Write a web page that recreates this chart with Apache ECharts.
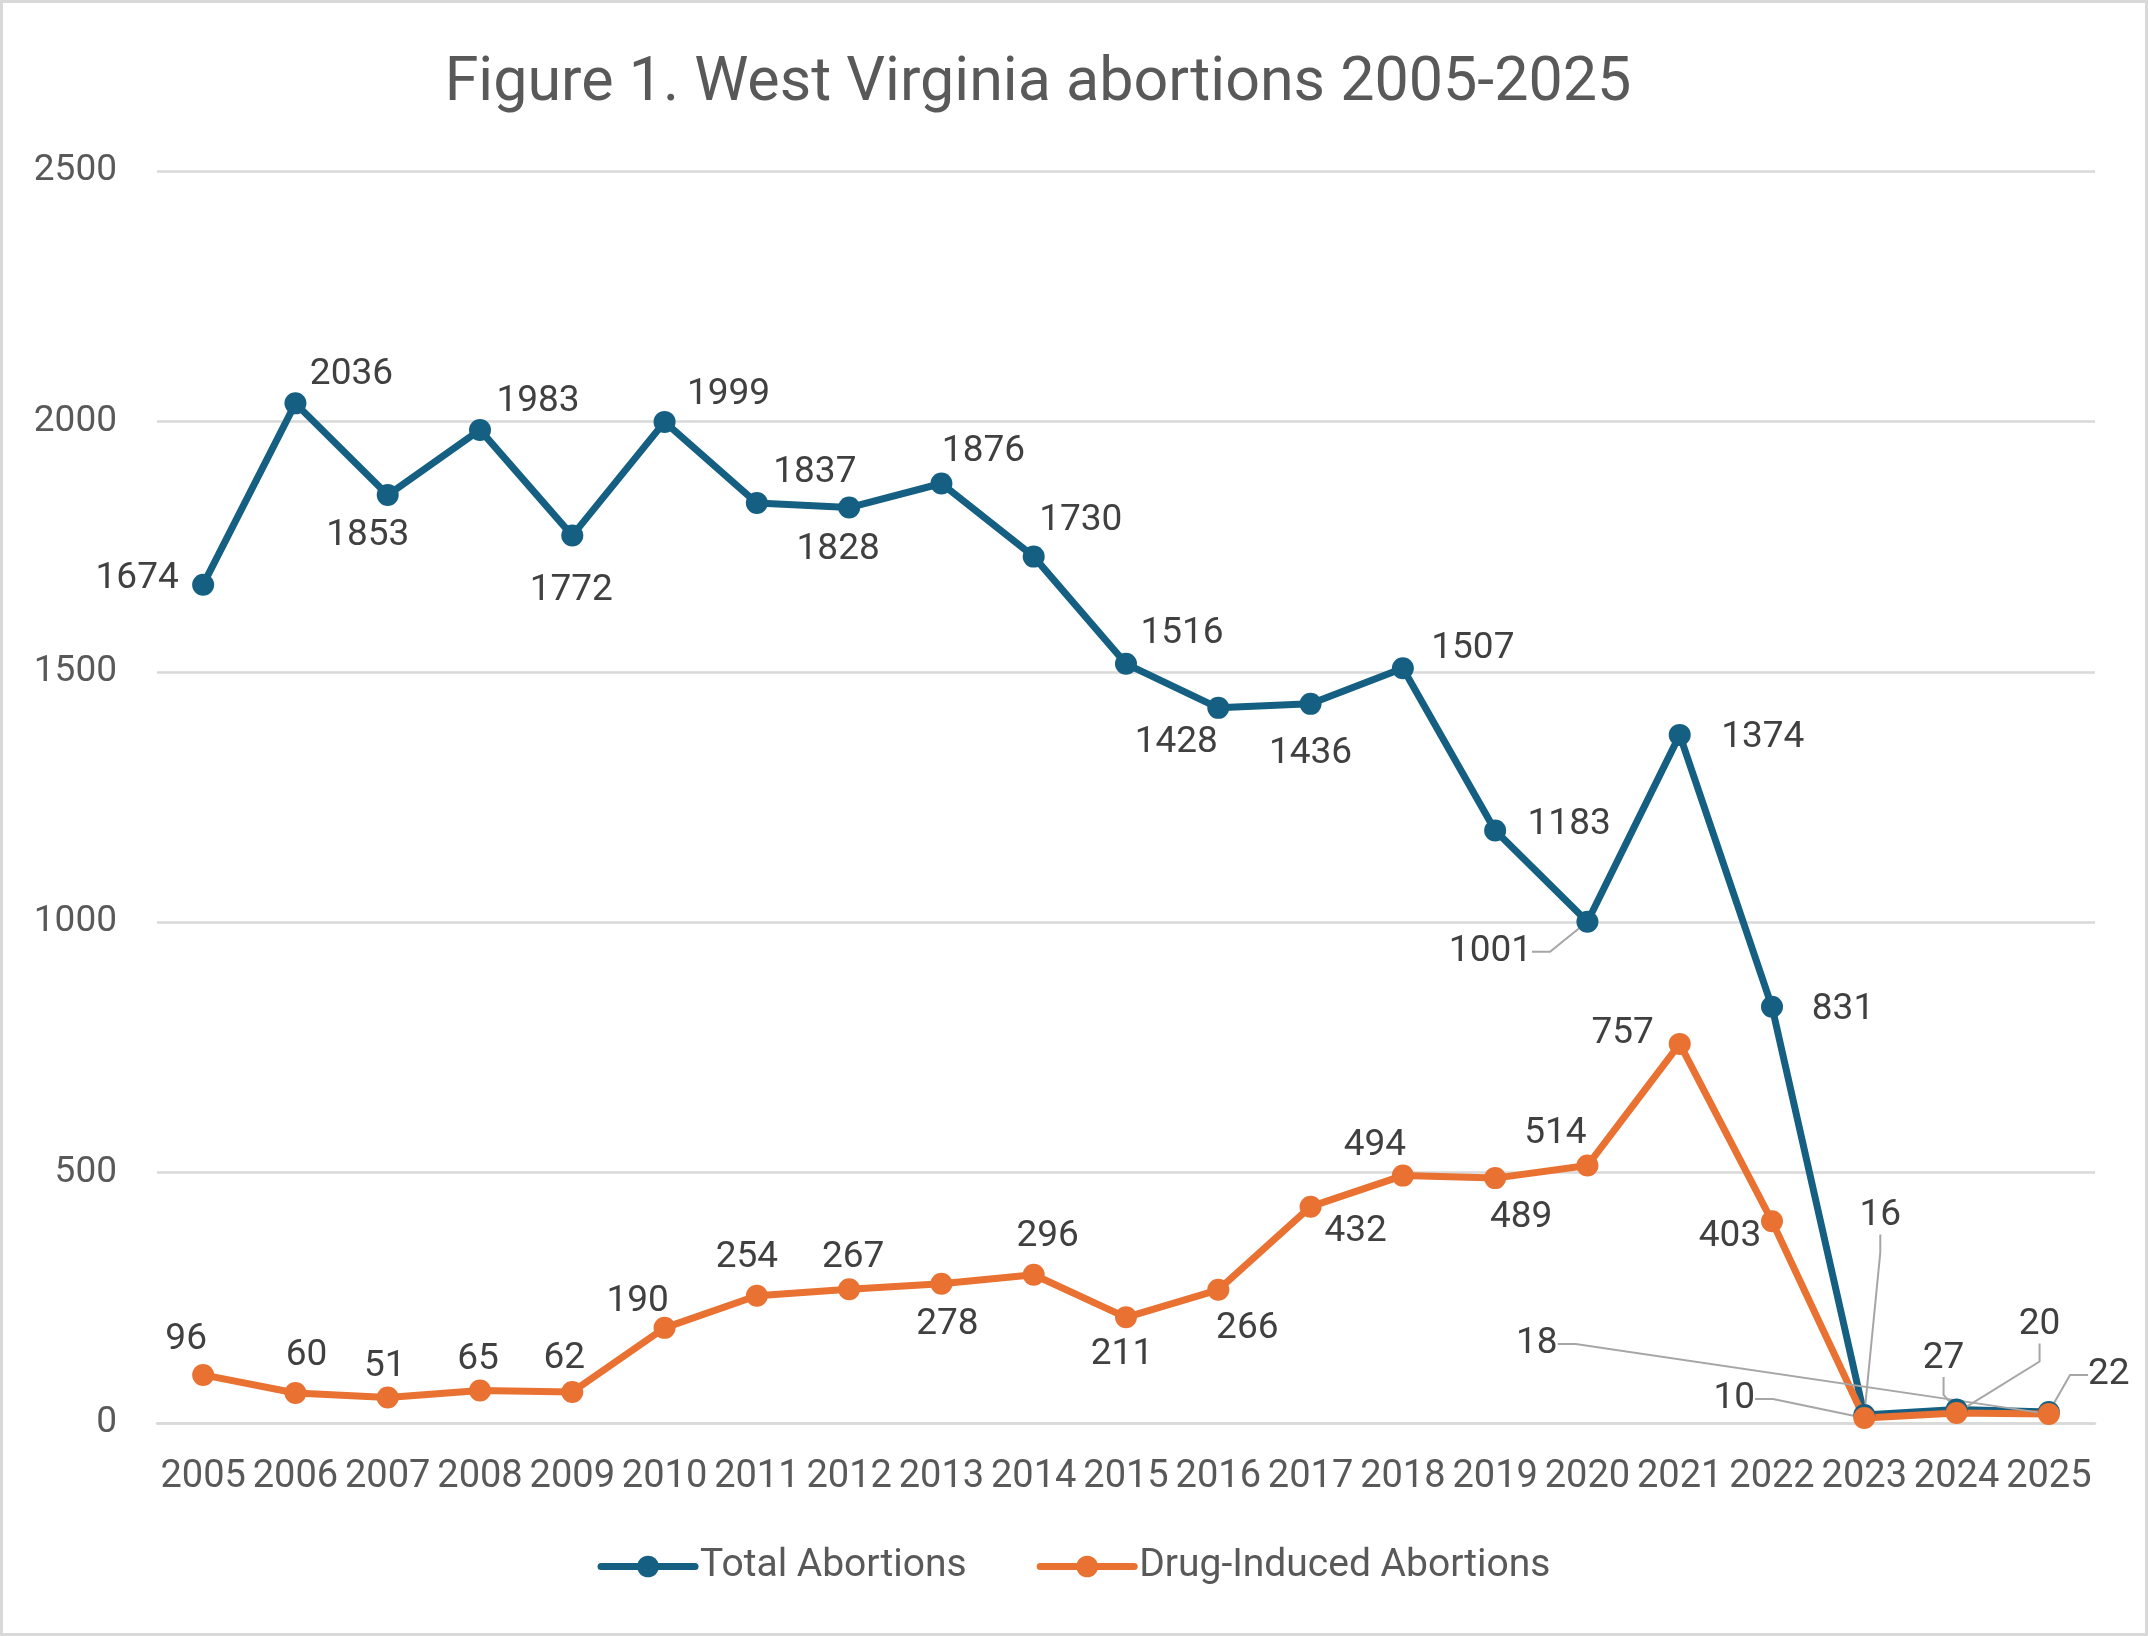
<!DOCTYPE html>
<html>
<head>
<meta charset="utf-8">
<script src="https://cdn.jsdelivr.net/npm/echarts@6/dist/echarts.min.js"></script>
<style>
  html, body { margin: 0; padding: 0; background: #fff; }
  #frame { width: 2148px; height: 1636px; box-sizing: border-box; border: 3px solid #d9d9d9; }
  #chart { width: 2142px; height: 1630px; }
</style>
</head>
<body>
<div id="frame"><div id="chart"></div></div>
<script>
// values
const years = ['2005', '2006', '2007', '2008', '2009', '2010', '2011', '2012', '2013', '2014', '2015',
  '2016', '2017', '2018', '2019', '2020', '2021', '2022', '2023', '2024', '2025'];
const totalAbortions = [1674, 2036, 1853, 1983, 1772, 1999, 1837, 1828, 1876, 1730, 1516,
  1428, 1436, 1507, 1183, 1001, 1374, 831, 16, 27, 22];
const drugAbortions = [96, 60, 51, 65, 62, 190, 254, 267, 278, 296, 211,
  266, 432, 494, 489, 514, 757, 403, 10, 20, 18];

// label offsets from the marker (px), as placed in the original
const totalLabelOffset = [[-66, -9], [56, -32], [-20, 38], [58, -31], [-1, 52], [64, -30], [58, -33],
  [-11, 39], [42, -35], [47, -39], [56, -33], [-42, 32], [0, 47], [70, -23], [74, -9], [-97, 27],
  [83, 0], [71, 0], [16, -202], [-13, -54], [60, -40]];
const drugLabelOffset = [[-17, -38], [11, -40], [-3, -34], [-2, -34], [-8, -36], [-27, -29], [-10, -41],
  [4, -35], [6, 38], [14, -41], [-4, 34], [29, 36], [45, 22], [-28, -33], [26, 37], [-32, -35],
  [-57, -13], [-42, 13], [-130, -22], [83, -91], [-512, -73]];
const totalLeaders = [15, 18, 19, 20];
const drugLeaders = [18, 19, 20];

const FONT = 'Roboto';
const BLUE = '#156082';
const ORANGE = '#E97132';

function makeData(values, leaders) {
  return values.map((v, i) => leaders.includes(i)
    ? { value: v, labelLine: { show: true } }
    : v);
}

function makeSeries(name, values, color, offsets, leaders) {
  return {
    name: name,
    type: 'line',
    data: makeData(values, leaders),
    symbol: 'circle',
    symbolSize: 22,
    lineStyle: { width: 7, color: color, cap: 'round', join: 'round' },
    itemStyle: { color: color },
    label: {
      show: true,
      position: 'inside',
      color: '#404040',
      fontFamily: FONT,
      fontSize: 37
    },
    labelLine: {
      show: false,
      length2: 18,
      lineStyle: { color: '#a6a6a6', width: 2 }
    },
    labelLayout: function (params) {
      const o = offsets[params.dataIndex];
      return { dx: o[0], dy: o[1] + 3 };
    },
    emphasis: { disabled: true }
  };
}

const chart = echarts.init(document.getElementById('chart'));

chart.setOption({
  animation: false,
  backgroundColor: '#fff',
  title: {
    text: 'Figure 1. West Virginia abortions 2005-2025',
    left: 1030,
    textAlign: 'center',
    top: 46,
    textStyle: { color: '#595959', fontFamily: FONT, fontSize: 61, fontWeight: 'normal' }
  },
  legend: {
    bottom: 42,
    left: 'center',
    itemWidth: 94,
    itemHeight: 27,
    itemGap: 70,
    lineStyle: { width: 7, cap: 'round' },
    textStyle: { color: '#595959', fontFamily: FONT, fontSize: 39 },
    data: ['Total Abortions', 'Drug-Induced Abortions']
  },
  grid: { left: 154, right: 50, top: 168, bottom: 210, containLabel: false },
  xAxis: {
    type: 'category',
    data: years,
    boundaryGap: true,
    axisLine: { lineStyle: { color: '#d9d9d9', width: 2.5 } },
    axisTick: { show: false },
    axisLabel: { interval: 0, color: '#595959', fontFamily: FONT, fontSize: 38, margin: 35 }
  },
  yAxis: {
    type: 'value',
    min: 0,
    max: 2500,
    interval: 500,
    axisLine: { show: false },
    axisTick: { show: false },
    splitLine: { lineStyle: { color: '#d9d9d9', width: 2.5 } },
    axisLabel: {
      color: '#595959', fontFamily: FONT, fontSize: 37, margin: 40,
      formatter: function (v) { return String(v); }
    }
  },
  series: [
    makeSeries('Total Abortions', totalAbortions, BLUE, totalLabelOffset, totalLeaders),
    makeSeries('Drug-Induced Abortions', drugAbortions, ORANGE, drugLabelOffset, drugLeaders)
  ]
});
</script>
</body>
</html>
